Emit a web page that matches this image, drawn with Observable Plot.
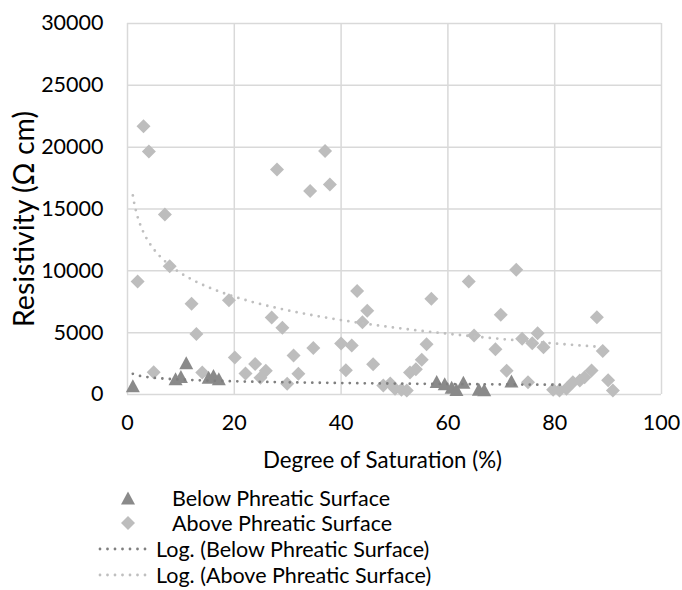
<!DOCTYPE html>
<html>
<head>
<meta charset="utf-8">
<script src="https://cdn.jsdelivr.net/npm/d3@7"></script>
<script src="https://cdn.jsdelivr.net/npm/@observablehq/plot@0.6"></script>
<style>
  body { margin: 0; background: #fff; font-family: Lato, "Open Sans", sans-serif; }
  #wrap { position: relative; width: 682px; height: 590px; overflow: hidden; }
  #legend .row { position: absolute; font-size: 21.5px; color: #000; line-height: 26px; height: 26px; white-space: nowrap; }
  #legend svg { position: absolute; }
</style>
</head>
<body>
<div id="wrap"><div id="chart"></div><div id="legend"></div></div>
<script>
// ---- data ----
const belowX = [1.0, 9.0, 10.0, 11.0, 15.2, 16.1, 17.1, 57.9, 59.4, 60.7, 61.6, 62.9, 65.8, 66.8, 71.9];
const belowY = [700, 1270, 1460, 2560, 1400, 1540, 1270, 1050, 865, 590, 400, 1000, 420, 380, 1100];

const aboveX = [1.9, 3.0, 4.0, 4.9, 7.0, 7.9, 12.0, 12.9, 14.0, 19.0,
  20.1, 22.1, 23.9, 24.9, 25.9, 27.0, 28.0, 29.0, 29.9, 31.1,
  32.0, 34.2, 34.8, 37.0, 37.9, 40.0, 40.9, 42.0, 43.0, 44.0,
  44.9, 46.0, 47.9, 49.2, 50.1, 51.3, 52.3, 52.9, 54.0, 55.1,
  56.0, 56.9, 63.9, 64.9, 68.9, 69.9, 71.0, 72.8, 73.9, 75.0,
  75.8, 76.8, 77.9, 79.7, 80.9, 82.2, 83.4, 84.7, 85.6, 86.9,
  87.9, 89.0, 90.0, 90.9];
const aboveY = [9140, 21700, 19650, 1800, 14550, 10380, 7340, 4900, 1780, 7620,
  3000, 1700, 2460, 1350, 1920, 6230, 18200, 5400, 870, 3150,
  1680, 16450, 3760, 19700, 16990, 4120, 1970, 3960, 8360, 5850,
  6770, 2450, 730, 880, 460, 380, 320, 1780, 2050, 2800,
  4060, 7740, 9140, 4770, 3650, 6450, 1930, 10090, 4500, 1000,
  4150, 4950, 3820, 380, 320, 460, 1000, 1130, 1400, 1940,
  6250, 3520, 1150, 320];

// logarithmic trendlines (y = a ln x + b), coefficients
const belowTrendA = -201, belowTrendB = 1670, belowTrendRange = [1, 81.6];
const aboveTrendA = -2733, aboveTrendB = 16100, aboveTrendRange = [1, 89.5];

const xTicks = [0, 20, 40, 60, 80, 100];
const yTicks = [0, 5000, 10000, 15000, 20000, 25000, 30000];
const xLabel = "Degree of Saturation (%)";
const yLabel = "Resistivity (Ω cm)";
const legendLabels = ["Below Phreatic Surface", "Above Phreatic Surface",
  "Log. (Below Phreatic Surface)", "Log. (Above Phreatic Surface)"];

// ---- styles ----
const belowColor = "#8a8a8a", aboveColor = "#bdbdbd";
const belowTrendColor = "#7f7f7f", aboveTrendColor = "#bfbfbf";

const below = belowX.map((x, i) => ({x, y: belowY[i]}));
const above = aboveX.map((x, i) => ({x, y: aboveY[i]}));
const trend = (a, b, [x0, x1]) => d3.range(x0, x1 + 1e-9, 0.25).concat([x1]).map(x => ({x, y: a * Math.log(x) + b}));
const belowTrend = trend(belowTrendA, belowTrendB, belowTrendRange);
const aboveTrend = trend(aboveTrendA, aboveTrendB, aboveTrendRange);

// Excel-like marker shapes
const triSym = {draw(ctx, size) { const r = Math.sqrt(size / Math.PI); const w = 1.4 * r, h = 1.3 * r;
  ctx.moveTo(0, -h); ctx.lineTo(w, h); ctx.lineTo(-w, h); ctx.closePath(); }};
const diaSym = {draw(ctx, size) { const r = Math.sqrt(size / Math.PI); const d = 1.4 * r;
  ctx.moveTo(0, -d); ctx.lineTo(d, 0); ctx.lineTo(0, d); ctx.lineTo(-d, 0); ctx.closePath(); }};

const gridStyle = {stroke: "#d9d9d9", strokeOpacity: 1, strokeWidth: 1.5};
const dotted = {strokeWidth: 2.8, strokeDasharray: "0 7.5", strokeLinecap: "round"};

const chart = Plot.plot({
  width: 682, height: 480,
  marginLeft: 127, marginRight: 21, marginTop: 23, marginBottom: 86,
  style: {fontFamily: "Lato, 'Open Sans', sans-serif", fontSize: "21.5px", color: "#000", background: "#fff"},
  x: {domain: [0, 100]},
  y: {domain: [0, 30000]},
  marks: [
    Plot.gridX(xTicks, gridStyle),
    Plot.gridY(yTicks, gridStyle),
    Plot.axisX(xTicks, {tickSize: 0, tickPadding: 20, label: null, fill: "#000", fontSize: 21.5}),
    Plot.axisY(yTicks, {tickSize: 0, tickPadding: 24, label: null, tickFormat: d => String(d), fill: "#000", fontSize: 21.5}),
    Plot.dot(above, {x: "x", y: "y", symbol: diaSym, r: 5, fill: aboveColor, stroke: "none"}),
    Plot.dot(below, {x: "x", y: "y", symbol: triSym, r: 5, fill: belowColor, stroke: "none"}),
    Plot.line(belowTrend, {x: "x", y: "y", stroke: belowTrendColor, ...dotted}),
    Plot.line(aboveTrend, {x: "x", y: "y", stroke: aboveTrendColor, ...dotted}),
    Plot.text([xLabel], {frameAnchor: "bottom", textAnchor: "middle", text: d => d, dy: 73, dx: -12, fontSize: 22.3, fill: "#000"}),
    Plot.text([yLabel], {frameAnchor: "left", textAnchor: "middle", text: d => d, rotate: -90, dx: -103, dy: 10, fontSize: 28.5, fill: "#000"})
  ]
});
document.getElementById("chart").appendChild(chart);

// ---- legend (below the SVG) ----
const legend = d3.select("#legend");
const rowCenters = [498, 523, 549, 575];
const kinds = [
  {type: "marker", sym: triSym, color: belowColor},
  {type: "marker", sym: diaSym, color: aboveColor},
  {type: "line", color: belowTrendColor},
  {type: "line", color: aboveTrendColor}
];
kinds.forEach((k, i) => {
  const cy = rowCenters[i];
  const svg = legend.append("svg").attr("width", 60).attr("height", 26)
    .style("left", "98px").style("top", (cy - 13) + "px");
  if (k.type === "marker") {
    svg.append("path").attr("d", d3.symbol(k.sym, 25 * Math.PI)()).attr("transform", "translate(30,13)").attr("fill", k.color);
  } else {
    svg.append("line").attr("x1", 2).attr("x2", 54).attr("y1", 13).attr("y2", 13)
      .attr("stroke", k.color).attr("stroke-width", 2.8).attr("stroke-dasharray", "0 7.5").attr("stroke-linecap", "round");
  }
  legend.append("div").attr("class", "row")
    .style("left", (k.type === "marker" ? 172 : 156) + "px").style("top", (cy - 13) + "px")
    .text(legendLabels[i]);
});
</script>
</body>
</html>
